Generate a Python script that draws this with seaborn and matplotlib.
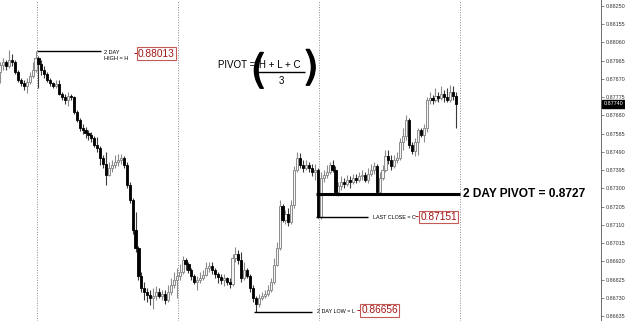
import numpy as np
import pandas as pd
import matplotlib
matplotlib.use("Agg")
import matplotlib.pyplot as plt
import matplotlib.transforms as mtransforms
import matplotlib.patheffects as pe
import seaborn as sns

# ---------------- data (30-minute candles) ----------------
first_open = 0.87906
close = [0.87942, 0.87958, 0.87937, 0.87968, 0.87958, 0.87906, 0.87864, 0.87849, 0.87833, 0.87854,
         0.87885, 0.87916, 0.87979, 0.87948, 0.87916, 0.87896, 0.87864, 0.87849, 0.87833, 0.87843,
         0.87791, 0.87776, 0.87760, 0.87781, 0.87776, 0.87697, 0.87656, 0.87614, 0.87604, 0.87588,
         0.87578, 0.87562, 0.87526, 0.87510, 0.87458, 0.87427, 0.87369, 0.87406, 0.87421, 0.87437,
         0.87447, 0.87458, 0.87421, 0.87317, 0.87239, 0.87083, 0.86989, 0.86843, 0.86781, 0.86760,
         0.86744, 0.86728, 0.86739, 0.86760, 0.86739, 0.86749, 0.86718, 0.86760, 0.86796, 0.86822,
         0.86843, 0.86864, 0.86926, 0.86906, 0.86874, 0.86843, 0.86812, 0.86822, 0.86833, 0.86848,
         0.86885, 0.86895, 0.86874, 0.86853, 0.86838, 0.86822, 0.86833, 0.86812, 0.86801, 0.86937,
         0.86958, 0.86926, 0.86833, 0.86874, 0.86843, 0.86781, 0.86728, 0.86697, 0.86728, 0.86739,
         0.86749, 0.86770, 0.86812, 0.86900, 0.86989, 0.87208, 0.87135, 0.87166, 0.87124, 0.87213,
         0.87395, 0.87458, 0.87421, 0.87406, 0.87421, 0.87406, 0.87385, 0.87395, 0.87151, 0.87354,
         0.87369, 0.87385, 0.87421, 0.87395, 0.87281, 0.87312, 0.87333, 0.87322, 0.87343, 0.87333,
         0.87354, 0.87343, 0.87364, 0.87369, 0.87343, 0.87375, 0.87395, 0.87416, 0.87281, 0.87354,
         0.87395, 0.87468, 0.87447, 0.87416, 0.87447, 0.87458, 0.87541, 0.87572, 0.87656, 0.87526,
         0.87494, 0.87541, 0.87604, 0.87578, 0.87614, 0.87760, 0.87770, 0.87760, 0.87781, 0.87770,
         0.87791, 0.87776, 0.87760, 0.87802, 0.87781, 0.87740]
high = [0.87958, 0.87979, 0.87968, 0.88020, 0.88000, 0.87968, 0.87916, 0.87875, 0.87864, 0.87875,
        0.87906, 0.87958, 0.88013, 0.87989, 0.87968, 0.87937, 0.87906, 0.87875, 0.87854, 0.87864,
        0.87864, 0.87802, 0.87791, 0.87802, 0.87791, 0.87781, 0.87708, 0.87666, 0.87635, 0.87619,
        0.87604, 0.87593, 0.87572, 0.87567, 0.87520, 0.87473, 0.87489, 0.87437, 0.87447, 0.87473,
        0.87479, 0.87479, 0.87468, 0.87437, 0.87333, 0.87249, 0.87177, 0.86999, 0.86864, 0.86812,
        0.86781, 0.86770, 0.86781, 0.86791, 0.86781, 0.86770, 0.86770, 0.86796, 0.86833, 0.86864,
        0.86885, 0.86906, 0.86947, 0.86937, 0.86916, 0.86885, 0.86853, 0.86843, 0.86864, 0.86874,
        0.86916, 0.86916, 0.86916, 0.86885, 0.86864, 0.86853, 0.86853, 0.86838, 0.86833, 0.86958,
        0.86994, 0.86978, 0.86968, 0.86916, 0.86885, 0.86853, 0.86796, 0.86739, 0.86749, 0.86760,
        0.86770, 0.86796, 0.86833, 0.86937, 0.87020, 0.87239, 0.87218, 0.87187, 0.87197, 0.87239,
        0.87416, 0.87489, 0.87484, 0.87447, 0.87447, 0.87437, 0.87427, 0.87427, 0.87406, 0.87385,
        0.87395, 0.87421, 0.87437, 0.87447, 0.87416, 0.87333, 0.87364, 0.87354, 0.87369, 0.87364,
        0.87375, 0.87375, 0.87385, 0.87395, 0.87385, 0.87406, 0.87427, 0.87437, 0.87427, 0.87385,
        0.87421, 0.87500, 0.87500, 0.87473, 0.87473, 0.87489, 0.87562, 0.87614, 0.87682, 0.87666,
        0.87541, 0.87562, 0.87614, 0.87614, 0.87635, 0.87776, 0.87802, 0.87786, 0.87823, 0.87802,
        0.87833, 0.87812, 0.87823, 0.87838, 0.87833, 0.87802]
low = [0.87849, 0.87916, 0.87916, 0.87927, 0.87937, 0.87896, 0.87854, 0.87833, 0.87812, 0.87796,
       0.87843, 0.87875, 0.87906, 0.87823, 0.87890, 0.87875, 0.87854, 0.87833, 0.87823, 0.87823,
       0.87786, 0.87760, 0.87739, 0.87729, 0.87760, 0.87687, 0.87645, 0.87598, 0.87583, 0.87562,
       0.87552, 0.87541, 0.87515, 0.87489, 0.87421, 0.87406, 0.87317, 0.87364, 0.87385, 0.87406,
       0.87416, 0.87427, 0.87406, 0.87302, 0.87223, 0.87062, 0.86968, 0.86822, 0.86760, 0.86718,
       0.86708, 0.86692, 0.86671, 0.86718, 0.86728, 0.86718, 0.86697, 0.86708, 0.86744, 0.86781,
       0.86728, 0.86822, 0.86853, 0.86874, 0.86859, 0.86822, 0.86801, 0.86770, 0.86807, 0.86822,
       0.86843, 0.86864, 0.86853, 0.86833, 0.86807, 0.86801, 0.86791, 0.86796, 0.86781, 0.86791,
       0.86916, 0.86906, 0.86812, 0.86822, 0.86833, 0.86760, 0.86708, 0.86656, 0.86681, 0.86718,
       0.86728, 0.86739, 0.86760, 0.86801, 0.86895, 0.86978, 0.87124, 0.87114, 0.87103, 0.87114,
       0.87197, 0.87385, 0.87406, 0.87385, 0.87395, 0.87385, 0.87364, 0.87343, 0.87145, 0.87140,
       0.87333, 0.87354, 0.87375, 0.87385, 0.87270, 0.87260, 0.87291, 0.87302, 0.87312, 0.87302,
       0.87322, 0.87328, 0.87333, 0.87343, 0.87333, 0.87328, 0.87364, 0.87375, 0.87270, 0.87270,
       0.87343, 0.87385, 0.87427, 0.87395, 0.87406, 0.87432, 0.87447, 0.87500, 0.87552, 0.87510,
       0.87479, 0.87468, 0.87473, 0.87567, 0.87541, 0.87593, 0.87739, 0.87739, 0.87750, 0.87750,
       0.87760, 0.87750, 0.87750, 0.87750, 0.87760, 0.87614]

day_breaks = [12.5, 60.5, 108.5, 156.5]
tick_values = [0.86635, 0.86730, 0.86825, 0.86920, 0.87015, 0.87110, 0.87205, 0.87300, 0.87395,
               0.87490, 0.87585, 0.87680, 0.87775, 0.87870, 0.87965, 0.88060, 0.88155, 0.88250]
tick_labels = ["0.86635", "0.86730", "0.86825", "0.86920", "0.87015", "0.87110", "0.87205",
               "0.87300", "0.87395", "0.87490", "0.87585", "0.87680", "0.87775", "0.87870",
               "0.87965", "0.88060", "0.88155", "0.88250"]
current_price = 0.87740
two_day_high = 0.88013
two_day_low = 0.86656
last_close = 0.87151
pivot = 0.8727

# ---------------- build frame ----------------
opens = [first_open] + close[:-1]
df = pd.DataFrame({"open": opens, "high": high, "low": low, "close": close})
df["idx"] = np.arange(len(df))
df["up"] = df["close"] >= df["open"]

sns.set_theme(style="white")
plt.rcParams["font.family"] = ["Liberation Sans", "DejaVu Sans"]

fig = plt.figure(figsize=(6.25, 3.21), dpi=100)
fig.patch.set_facecolor("white")
ax = fig.add_axes([0, 0, 601 / 625, 1])
ax.set_facecolor("white")

# day separators
for b in day_breaks:
    ax.axvline(b, color="#8a8a8a", lw=0.7, ls=(0, (1, 1.6)), zorder=1)

# wicks
up = df[df["up"]]
dn = df[~df["up"]]
ax.vlines(up["idx"], up["low"], up["high"], color="#8c8c8c", lw=0.8, zorder=2)
ax.vlines(dn["idx"], dn["low"], dn["high"], color="#3a3a3a", lw=0.8, zorder=2)

# bodies
body_lo = np.minimum(df["open"], df["close"])
body_h = np.maximum(np.abs(df["close"] - df["open"]), 0.00002)
ax.bar(df["idx"][df["up"]], body_h[df["up"]], bottom=body_lo[df["up"]], width=0.72,
       color="#f4f4f4", edgecolor="#8c8c8c", linewidth=0.7, zorder=3)
ax.bar(df["idx"][~df["up"]], body_h[~df["up"]], bottom=body_lo[~df["up"]], width=0.72,
       color="black", edgecolor="black", linewidth=0.6, zorder=3)

ax.set_xlim(-0.085, 204.3)
ax.set_ylim(0.86609, 0.88281)

# axis styling
ax.yaxis.tick_right()
ax.set_yticks(tick_values)
ax.set_yticklabels(tick_labels)
ax.tick_params(axis="y", which="both", right=True, length=2, width=0.5, color="#555555",
               labelsize=3.9, labelcolor="#333333", pad=1.5)
ax.set_xticks([])
for s in ["top", "left", "bottom"]:
    ax.spines[s].set_visible(False)
ax.spines["right"].set_color("#555555")
ax.spines["right"].set_linewidth(0.6)

trans = mtransforms.blended_transform_factory(ax.transAxes, ax.transData)
ax.text(1.004, current_price, "0.87740", transform=trans, fontsize=3.9, color="white",
        ha="left", va="center", clip_on=False,
        bbox=dict(boxstyle="square,pad=0.25", fc="black", ec="black"))

red_txt = "#a31515"
red_box = "#c45a55"

def value_box(x, y, s):
    ax.text(x, y, s, fontsize=7.3, color=red_txt, ha="center", va="center", zorder=6,
            bbox=dict(boxstyle="square,pad=0.12", fc="white", ec=red_box, lw=0.8))

# 2 day high
ax.hlines(two_day_high, 12.4, 34.3, color="black", lw=1.0, zorder=5)
ax.text(35.3, 0.87994, "2 DAY\nHIGH = H", fontsize=4.0, color="black", ha="left",
        va="center", linespacing=1.25, zorder=6)
ax.hlines(0.88005, 45.4, 46.5, color=red_txt, lw=0.7, zorder=5)
value_box(53.1, 0.88002, "0.88013")

# pivot formula
ax.text(74.0, 0.87942, "PIVOT =", fontsize=7, color="black", ha="left", va="center")
ax.text(95.2, 0.87942, "H + L + C", fontsize=7, color="black", ha="center", va="center")
ax.hlines(0.87906, 86.6, 103.7, color="black", lw=1.0)
ax.text(95.5, 0.87859, "3", fontsize=7, color="black", ha="center", va="center")
stroke = [pe.withStroke(linewidth=0.9, foreground="black")]
ax.text(87.9, 0.87906, "(", fontsize=29, color="black", ha="center", va="center",
        family="DejaVu Sans", path_effects=stroke)
ax.text(105.6, 0.87922, ")", fontsize=29, color="black", ha="center", va="center",
        family="DejaVu Sans", path_effects=stroke)

# pivot line
ax.hlines(pivot, 107.4, 156.4, color="black", lw=2.2, zorder=5)
ax.text(157.4, pivot, "2 DAY PIVOT = 0.8727", fontsize=8.6, color="black", ha="left",
        va="center", zorder=6, fontweight="bold")

# last close
ax.hlines(last_close, 107.4, 125.1, color="black", lw=1.0, zorder=5)
ax.text(126.8, 0.87150, "LAST CLOSE = C", fontsize=3.9, color="black", ha="left",
        va="center", zorder=6)
ax.hlines(0.87156, 141.1, 142.1, color=red_txt, lw=0.7, zorder=5)
value_box(149.1, 0.87151, "0.87151")

# 2 day low
ax.hlines(two_day_low, 86.3, 106.0, color="black", lw=1.0, zorder=5)
ax.text(107.7, 0.86659, "2 DAY LOW = L", fontsize=3.9, color="black", ha="left",
        va="center", zorder=6)
ax.hlines(0.86664, 121.3, 122.4, color=red_txt, lw=0.7, zorder=5)
value_box(129.0, 0.86664, "0.86656")

fig.savefig("out.png", dpi=100, facecolor="white")
